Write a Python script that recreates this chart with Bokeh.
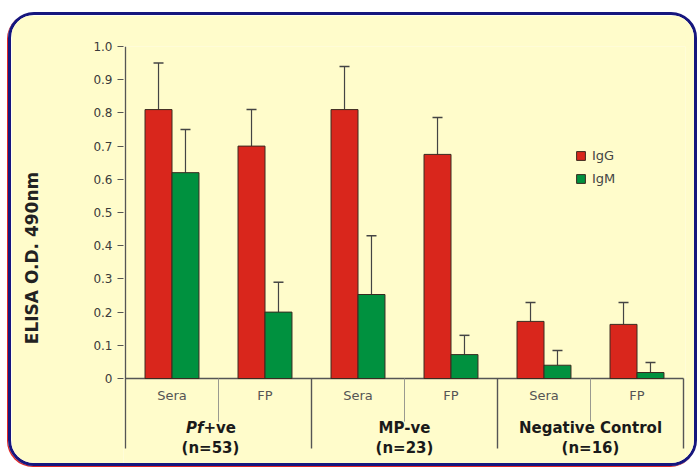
from bokeh.plotting import figure
from bokeh.models import Range1d, FixedTicker, ColumnDataSource, Legend, LegendItem, Whisker, TeeHead
from bokeh.transform import dodge
from bokeh.core.properties import value
from bokeh.embed import file_html
from bokeh.resources import INLINE

# ---- data ----
group_prefix = ["Pf", "", ""]
group_names = ["+ve", "MP-ve", "Negative Control"]
group_n = ["(n=53)", "(n=23)", "(n=16)"]
samples = ["Sera", "FP", "Sera", "FP", "Sera", "FP"]
igg = [0.81, 0.70, 0.81, 0.675, 0.172, 0.163]
igg_err = [0.95, 0.81, 0.94, 0.786, 0.229, 0.229]
igm = [0.62, 0.20, 0.253, 0.072, 0.04, 0.018]
igm_err = [0.75, 0.29, 0.43, 0.13, 0.084, 0.048]
y_ticks = [0, 0.1, 0.2, 0.3, 0.4, 0.5, 0.6, 0.7, 0.8, 0.9, 1.0]
y_tick_labels = ["0", "0.1", "0.2", "0.3", "0.4", "0.5", "0.6", "0.7", "0.8", "0.9", "1.0"]

RED = "#D9261C"
GREEN = "#00913F"
BG = "#FFFCCB"
TXT = "#3a3a3a"
FONT = "DejaVu Sans"

n = len(samples)
xs = [i + 0.5 for i in range(n)]
src = ColumnDataSource(dict(x=xs, igg=igg, igg_err=igg_err, igm=igm, igm_err=igm_err, s=samples))

px_per_unit = 93.0
y_px = 332.0
y_bottom = -(469 - 378) / y_px
line_bottom = -(448 - 378) / y_px

p = figure(width=689, height=454, output_backend="svg", toolbar_location=None,
           x_range=Range1d(-2 / px_per_unit, n + 2 / px_per_unit),
           y_range=Range1d(y_bottom, 1.0),
           min_border_left=112, min_border_right=15, min_border_top=31, min_border_bottom=0)
p.background_fill_color = BG
p.border_fill_color = BG
p.outline_line_color = None
p.grid.visible = False
p.xaxis.visible = False
p.styles = {"margin-left": "8px", "margin-top": "12px", "box-sizing": "border-box",
            "border": "3px solid #16167e", "border-radius": "26px", "overflow": "hidden",
            "box-shadow": "-1px 1px 0 #e02828"}

ya = p.yaxis[0]
ya.ticker = FixedTicker(ticks=y_ticks)
ya.major_label_overrides = {t: l for t, l in zip(y_ticks, y_tick_labels)}
ya.axis_line_color = None
ya.major_tick_out = 6
ya.major_tick_in = 0
ya.minor_tick_line_color = None
ya.major_tick_line_color = "#555555"
ya.major_label_text_font = FONT
ya.major_label_text_font_size = "12px"
ya.major_label_text_color = TXT
ya.major_label_standoff = 5
ya.axis_label = "ELISA O.D. 490nm"
ya.axis_label_text_font = FONT
ya.axis_label_text_font_size = "17px"
ya.axis_label_text_font_style = "bold"
ya.axis_label_text_color = "#222222"
ya.axis_label_standoff = 48

# axes lines and separators
p.segment(x0=[0], y0=[line_bottom], x1=[0], y1=[1.0], line_color="#555555", line_width=1.3)
p.segment(x0=[0], y0=[0], x1=[n], y1=[0], line_color="#555555", line_width=1.5)
grp_sep = [2 * i for i in range(1, len(group_names) + 1)]
p.segment(x0=grp_sep, y0=[0] * len(grp_sep), x1=grp_sep, y1=[line_bottom] * len(grp_sep),
          line_color="#555555", line_width=1.4)
sub_sep = [2 * i + 1 for i in range(len(group_names))]
p.segment(x0=sub_sep, y0=[0] * len(sub_sep), x1=sub_sep, y1=[-0.13] * len(sub_sep),
          line_color="#9a9a90", line_width=1)

# bars
w = 0.29
r_igg = p.vbar(x=dodge("x", -w / 2), top="igg", width=w, source=src, fill_color=RED,
               line_color="#3a2a20", line_width=1)
r_igm = p.vbar(x=dodge("x", w / 2), top="igm", width=w, source=src, fill_color=GREEN,
               line_color="#3a2a20", line_width=1)

for col, lo, off in (("igg_err", "igg", -w / 2), ("igm_err", "igm", w / 2)):
    wk = Whisker(base=dodge("x", off), upper=col, lower=lo, source=src,
                 upper_head=TeeHead(size=10, line_color="#444444", line_width=1.5),
                 lower_head=None, line_color="#444444", line_width=1.2)
    p.add_layout(wk)

# category labels
p.text(x="x", y=-0.051, text="s", source=src, text_align="center", text_baseline="middle",
       text_font=value(FONT), text_font_size="13px", text_color="#555555")

gx = [2 * i + 1 for i in range(len(group_names))]
for i in range(len(group_names)):
    if group_prefix[i]:
        p.text(x=[gx[i]], y=[-0.148], text=[group_prefix[i]], text_align="right", x_offset=-15,
               text_baseline="middle", text_font=value(FONT), text_font_size="15px",
               text_font_style="bold italic", text_color="#1a1a1a")
        p.text(x=[gx[i]], y=[-0.148], text=[group_names[i]], text_align="left", x_offset=-15,
               text_baseline="middle", text_font=value(FONT), text_font_size="15px",
               text_font_style="bold", text_color="#1a1a1a")
    else:
        p.text(x=[gx[i]], y=[-0.148], text=[group_names[i]], text_align="center",
               text_baseline="middle", text_font=value(FONT), text_font_size="15px",
               text_font_style="bold", text_color="#1a1a1a")
p.text(x=gx, y=[-0.208] * len(gx), text=group_n, text_align="center", text_baseline="middle",
       x_offset=[-8, 0, 0],
       text_font=value(FONT), text_font_size="15px", text_font_style="bold", text_color="#1a1a1a")

legend = Legend(items=[LegendItem(label="IgG", renderers=[r_igg]),
                       LegendItem(label="IgM", renderers=[r_igm])],
                location=(452, 281), glyph_width=11, glyph_height=11, label_height=20,
                spacing=3, padding=0, margin=0, label_standoff=6,
                background_fill_alpha=0, border_line_color=None,
                label_text_font=FONT, label_text_font_size="13px", label_text_color="#444444")
p.add_layout(legend)

open("out.html", "w").write(file_html(p, INLINE))
